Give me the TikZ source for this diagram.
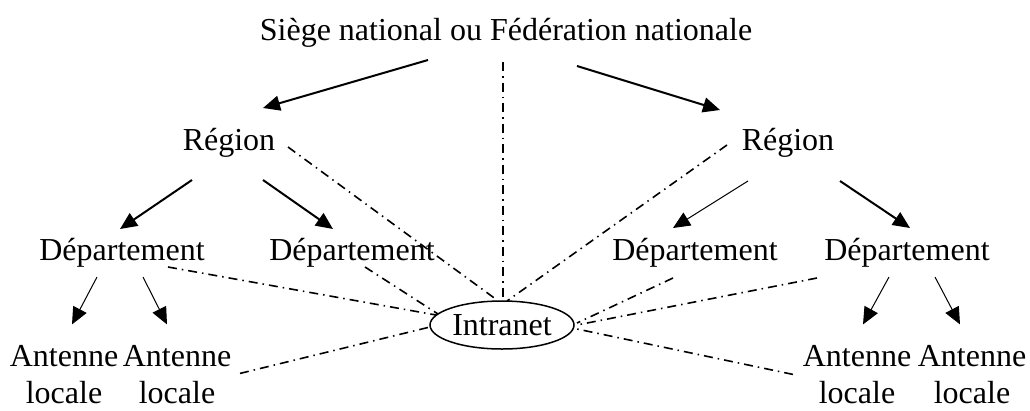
\documentclass[tikz,border=0pt]{standalone}
\usepackage{fontspec}
\setmainfont{Liberation Serif}
\usetikzlibrary{arrows.meta,shapes.geometric}

\begin{document}
\begin{tikzpicture}[x=1pt, y=-1pt,
    every node/.style={font=\fontsize{32}{37}\selectfont, inner sep=0pt},
    niveau/.style={anchor=base, text height=23pt, text depth=7pt},
    antenne/.style={anchor=north, align=center},
    fleche/.style={line width=2pt, -{Triangle[length=17pt,width=15pt]}},
    fleche fine/.style={line width=1pt, -{Triangle[length=17pt,width=15pt]}},
    lien/.style={line width=1.6pt, dash pattern=on 9pt off 5pt on 1.5pt off 5pt}]
  \useasboundingbox (0,0) rectangle (1030,410);

  % Niveaux de l'organisation
  \node[niveau] (siege) at (506,40) {Siège national ou Fédération nationale};
  \node[niveau] (reg1) at (229,150) {Région};
  \node[niveau] (reg2) at (788,150) {Région};
  \node[niveau] (dep1) at (122,260) {Département};
  \node[niveau] (dep2) at (352,260) {Département};
  \node[niveau] (dep3) at (695,260) {Département};
  \node[niveau] (dep4) at (907,260) {Département};
  \node[antenne] (ant1) at (64,345) {Antenne\\locale};
  \node[antenne] (ant2) at (177,345) {Antenne\\locale};
  \node[antenne] (ant3) at (857,345) {Antenne\\locale};
  \node[antenne] (ant4) at (972,345) {Antenne\\locale};
  \node[draw, ellipse, line width=1.5pt, minimum width=144pt, minimum height=48pt]
    (intranet) at (502,325) {Intranet};

  % Hiérarchie
  \draw[fleche] ([shift={(-78,28)}]siege.center) -- ([shift={(34,-34)}]reg1.center);
  \draw[fleche] ([shift={(71,34)}]siege.center) -- ([shift={(-68,-32)}]reg2.center);
  \draw[fleche] ([shift={(-37,38)}]reg1.center) -- ([shift={(-2,-23)}]dep1.center);
  \draw[fleche] ([shift={(34,38)}]reg1.center) -- ([shift={(-19,-23)}]dep2.center);
  \draw[fleche fine] ([shift={(-40,39)}]reg2.center) -- ([shift={(-22,-24)}]dep3.center);
  \draw[fleche] ([shift={(52,39)}]reg2.center) -- ([shift={(3,-24)}]dep4.center);
  \draw[fleche fine] ([shift={(-25,25)}]dep1.center) -- ([shift={(8,-50)}]ant1.center);
  \draw[fleche fine] ([shift={(21,25)}]dep1.center) -- ([shift={(-10,-50)}]ant2.center);
  \draw[fleche fine] ([shift={(-18,25)}]dep4.center) -- ([shift={(6,-50)}]ant3.center);
  \draw[fleche fine] ([shift={(28,25)}]dep4.center) -- ([shift={(-12,-50)}]ant4.center);

  % Liens vers l'intranet
  \draw[lien] ([shift={(-3,30)}]siege.center) -- ([shift={(1,-24)}]intranet.center);
  \draw[lien] ([shift={(59,5)}]reg1.center) -- ([shift={(-5,-25)}]intranet.center);
  \draw[lien] ([shift={(-61,3)}]reg2.center) -- ([shift={(5,-24)}]intranet.center);
  \draw[lien] ([shift={(46,15)}]dep1.center) -- ([shift={(-66,-10)}]intranet.center);
  \draw[lien] ([shift={(13,15)}]dep2.center) -- ([shift={(-64,-11)}]intranet.center);
  \draw[lien] ([shift={(63,-1)}]ant2.center) -- ([shift={(-72,2)}]intranet.center);
  \draw[lien] ([shift={(-22,26)}]dep3.center) -- ([shift={(75,-2)}]intranet.center);
  \draw[lien] ([shift={(-90,26)}]dep4.center) -- ([shift={(75,0)}]intranet.center);
  \draw[lien] ([shift={(-64,0)}]ant3.center) -- ([shift={(75,4)}]intranet.center);
\end{tikzpicture}
\end{document}
